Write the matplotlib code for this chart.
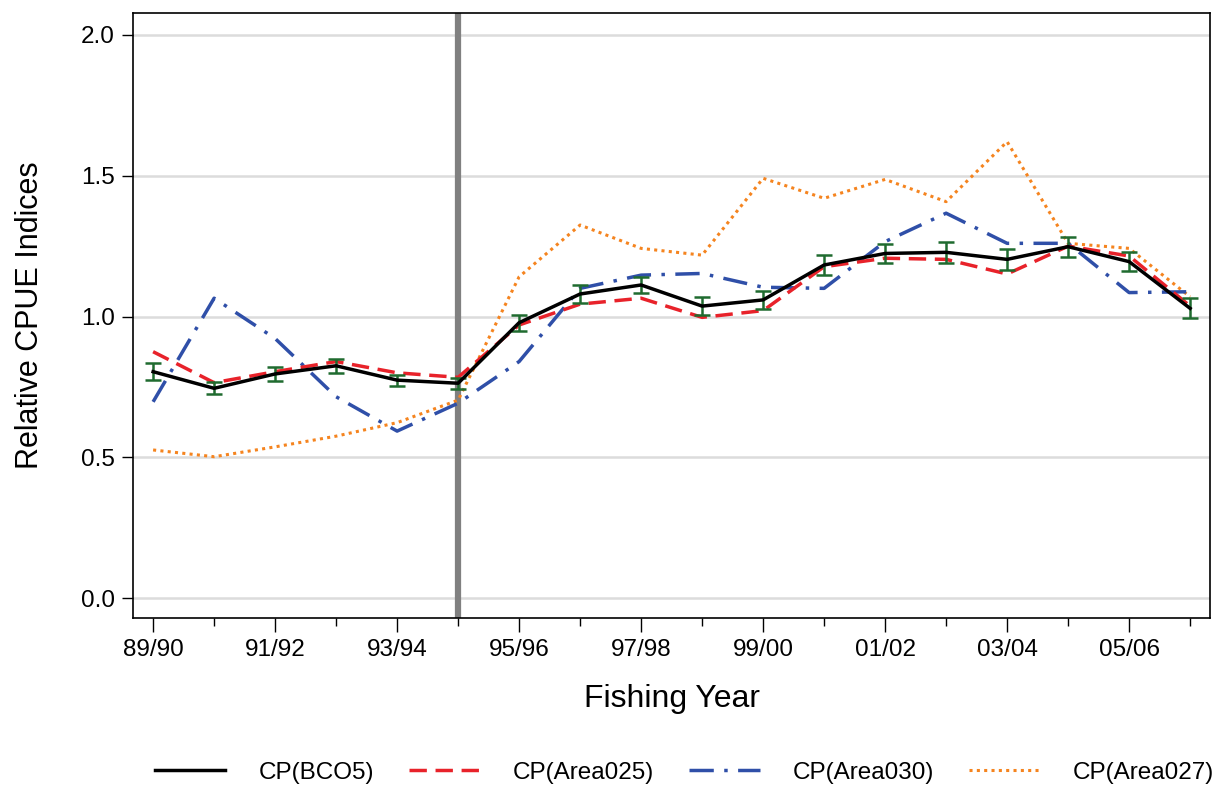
import matplotlib
matplotlib.use("Agg")
import matplotlib.pyplot as plt
from matplotlib.ticker import FixedLocator
import numpy as np

plt.rcParams['font.family'] = ['Liberation Sans', 'DejaVu Sans']

years = ["89/90", "90/91", "91/92", "92/93", "93/94", "94/95", "95/96", "96/97", "97/98",
         "98/99", "99/00", "00/01", "01/02", "02/03", "03/04", "04/05", "05/06", "06/07"]
bco5 = [0.804, 0.745, 0.796, 0.825, 0.774, 0.763, 0.978, 1.080, 1.112, 1.037, 1.059, 1.183,
        1.224, 1.228, 1.203, 1.248, 1.195, 1.029]
bco5_se = [0.031, 0.022, 0.025, 0.025, 0.020, 0.020, 0.028, 0.032, 0.030, 0.032, 0.032, 0.036,
           0.035, 0.038, 0.036, 0.036, 0.033, 0.035]
area025 = [0.875, 0.765, 0.804, 0.840, 0.800, 0.784, 0.970, 1.044, 1.065, 0.997, 1.021, 1.177,
           1.207, 1.203, 1.151, 1.250, 1.215, 1.037]
area030 = [0.697, 1.065, 0.922, 0.715, 0.593, 0.692, 0.840, 1.100, 1.147, 1.153, 1.104, 1.100,
           1.266, 1.367, 1.260, 1.260, 1.085, 1.088]
area027 = [0.526, 0.502, 0.537, 0.575, 0.623, 0.703, 1.141, 1.325, 1.242, 1.218, 1.491, 1.420,
           1.487, 1.408, 1.621, 1.260, 1.242, 1.070]
labels = ["CP(BCO5)", "CP(Area025)", "CP(Area030)", "CP(Area027)"]
break_year = "94/95"
y_ticks = [0.0, 0.5, 1.0, 1.5, 2.0]

x = np.arange(len(years))

fig = plt.figure(figsize=(12.2, 7.85), dpi=100)
ax = fig.add_axes([0.109, 0.2127, 0.883, 0.7707])

for yv in y_ticks:
    ax.axhline(yv, color='#dcdcdc', lw=1.8, zorder=0)

ax.axvline(years.index(break_year), color='#808080', lw=4.5, zorder=1)

ax.errorbar(x, bco5, yerr=bco5_se, fmt='none', ecolor='#1f6b2f', elinewidth=1.8,
            capsize=6, capthick=1.8, zorder=5)
l1, = ax.plot(x, bco5, color='black', lw=2.5, zorder=6, label=labels[0])
l2, = ax.plot(x, area025, color='#e8222a', lw=2.5, dashes=(5, 2.5), zorder=4, label=labels[1])
l3, = ax.plot(x, area030, color='#2f4fa8', lw=2.5, dashes=(7, 3, 1, 3), zorder=3, label=labels[2])
l4, = ax.plot(x, area027, color='#f5841f', lw=2.2, dashes=(1, 1.4), zorder=2, label=labels[3])

ax.set_xlim(-0.33, 17.33)
ax.set_ylim(-0.071, 2.078)
major_idx = x[::2]
minor_idx = x[1::2]
ax.set_xticks(major_idx)
ax.set_xticklabels([years[i] for i in major_idx], fontsize=17.5)
ax.xaxis.set_minor_locator(FixedLocator(minor_idx))
ax.set_yticks(y_ticks)
ax.set_yticklabels([f"{v:.1f}" for v in y_ticks], fontsize=17.5)
ax.tick_params(axis='x', which='major', direction='out', length=10, width=1, pad=5)
ax.tick_params(axis='x', which='minor', direction='out', length=6, width=1)
ax.tick_params(axis='y', direction='out', length=8, width=1, pad=5)
for s in ax.spines.values():
    s.set_linewidth(1.2)

ax.set_xlabel("Fishing Year", fontsize=23, labelpad=17)
ax.set_ylabel("Relative CPUE Indices", fontsize=22, labelpad=26)

fig.legend(handles=[l1, l2, l3, l4], labels=labels, loc='center',
           bbox_to_anchor=(0.561, 0.0153), ncol=4, frameon=False, fontsize=17.5,
           handlelength=2.9, handletextpad=1.36, columnspacing=1.45,
           borderpad=0, borderaxespad=0)

fig.savefig("out.png", dpi=100)
